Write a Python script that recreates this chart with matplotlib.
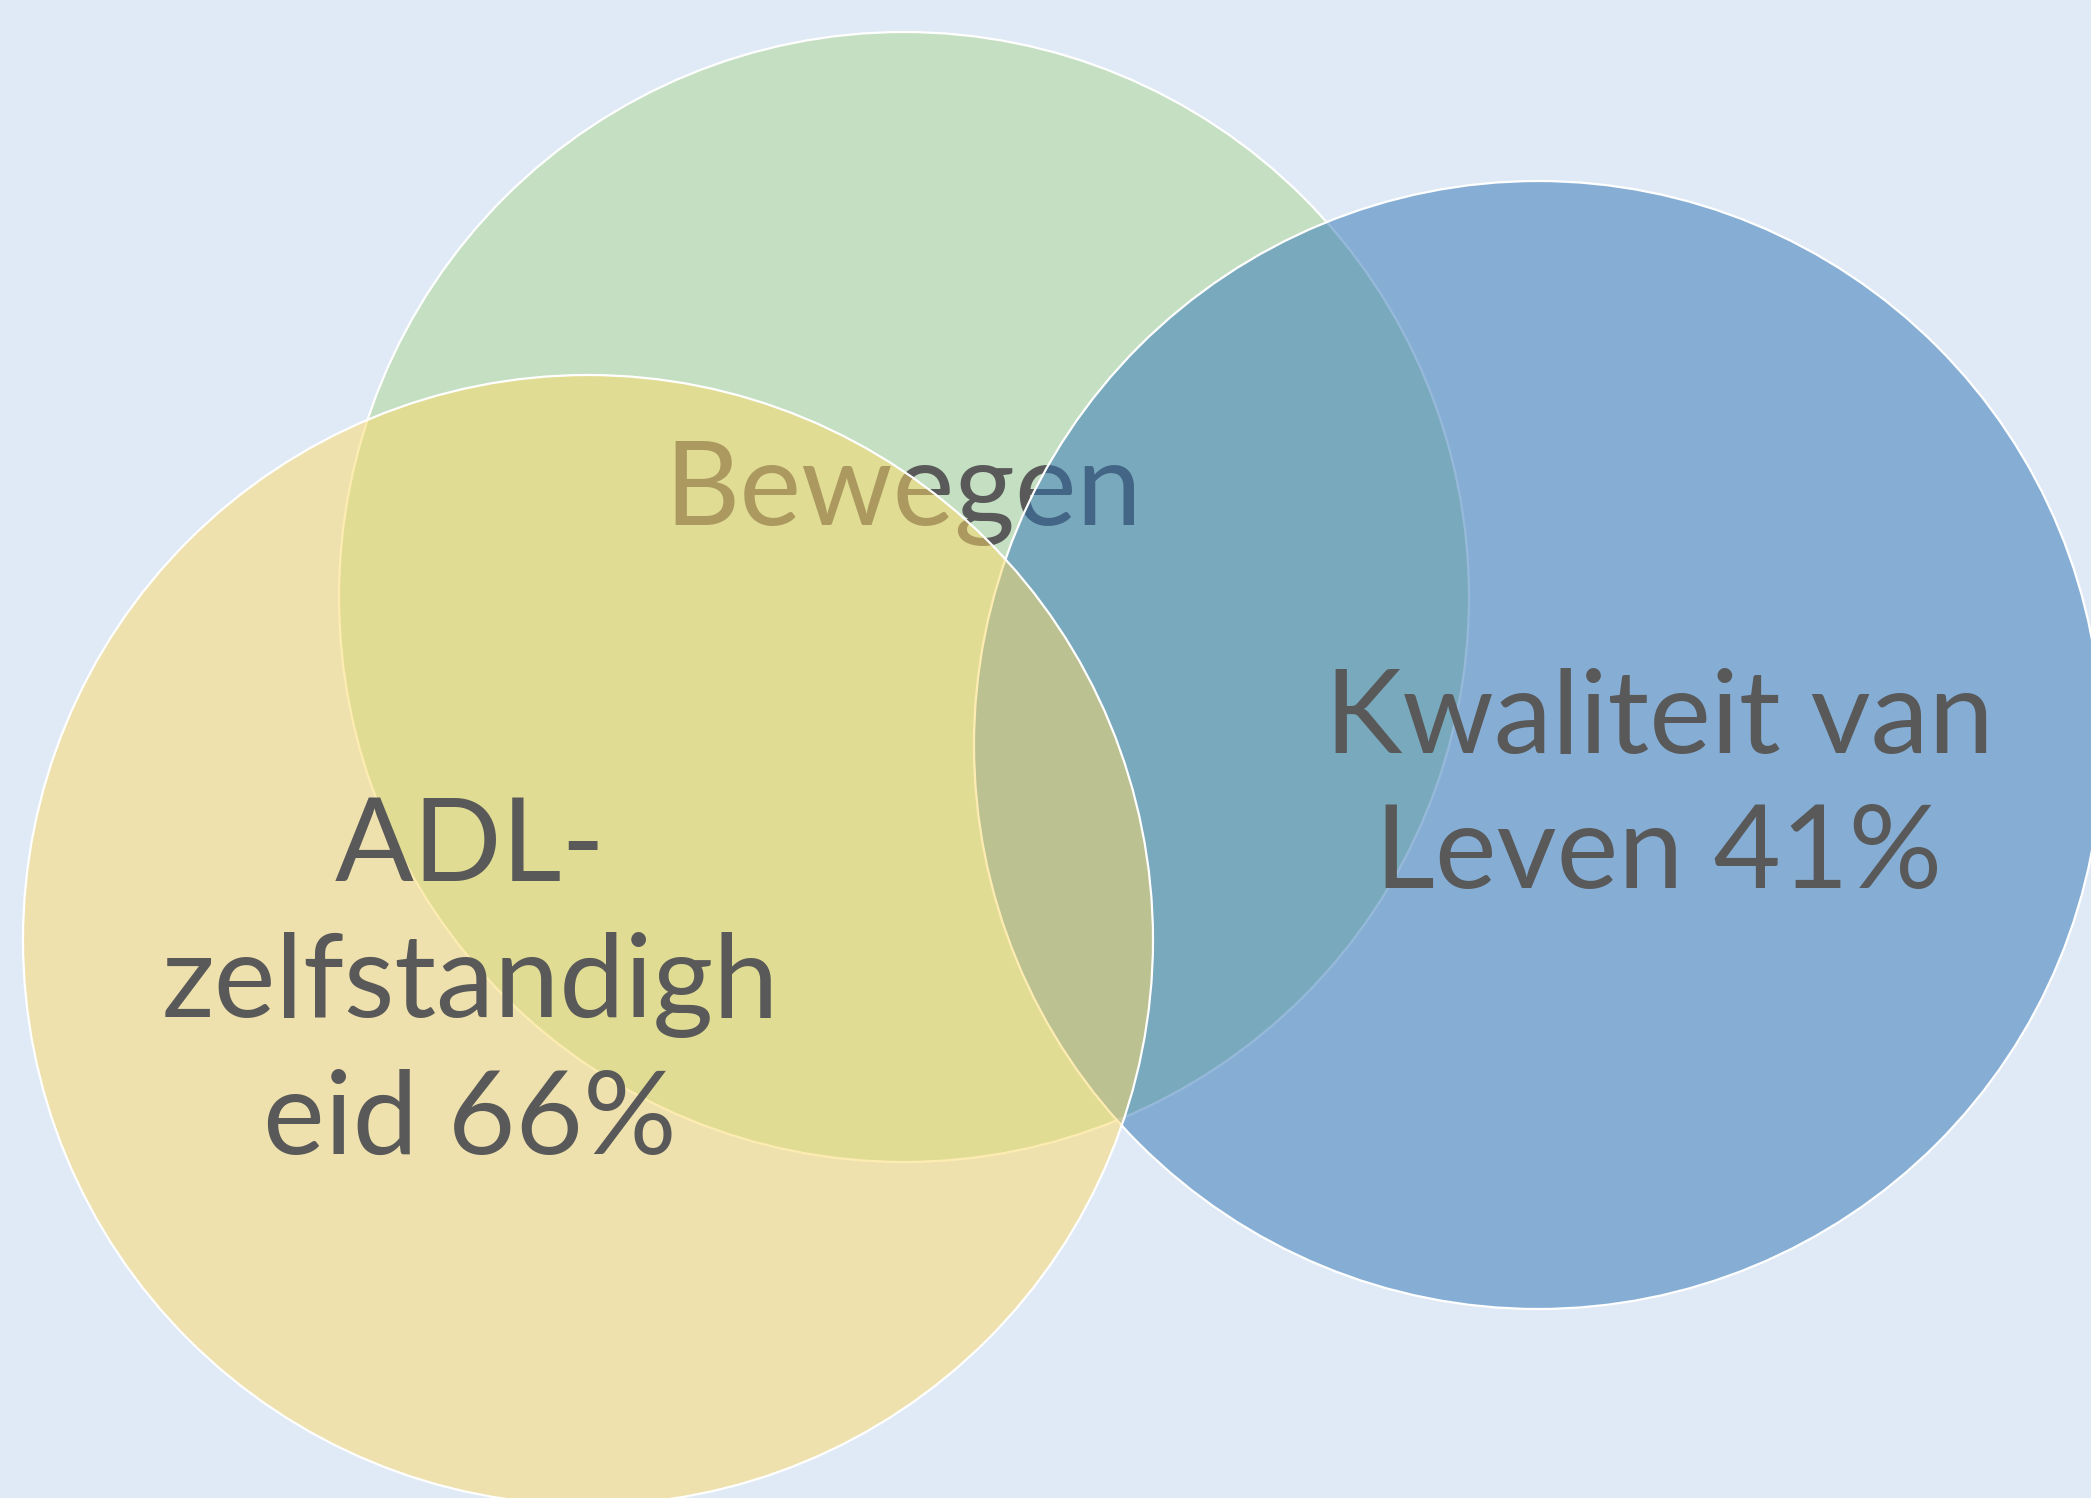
import matplotlib
matplotlib.use("Agg")
import matplotlib.pyplot as plt
from matplotlib.patches import Circle

# circles: label, center (px), radius (px), colour (drawn in this order)
names = ["Bewegen", "Kwaliteit van\nLeven 41%", "ADL-\nzelfstandigh\neid 66%"]
centers = [(904, 597), (1538, 745), (588, 940)]
radii = [565, 564, 565]
colors = ["#c5dfc3", "#2f74b6", "#fdda66"]
label_pos = [(903, 493), (1659, 788), (470, 985)]

W, H = 2091, 1498
fig = plt.figure(figsize=(W / 100, H / 100), dpi=100)
fig.patch.set_facecolor("#dfeaf6")
ax = fig.add_axes([0, 0, 1, 1])
ax.set_xlim(0, W)
ax.set_ylim(H, 0)
ax.set_aspect("equal")
ax.axis("off")

font = dict(family="Lato", color="#595959", fontsize=84, ha="center", va="center",
            linespacing=1.36)

# green first, its label under the other two circles
ax.add_patch(Circle(centers[0], radii[0], facecolor=colors[0],
                    edgecolor="white", linewidth=1.6, zorder=1))
ax.text(*label_pos[0], names[0], zorder=2, **font)

ax.add_patch(Circle(centers[1], radii[1], facecolor=colors[1] + "80",
                    edgecolor="white", linewidth=1.6, zorder=3))
ax.add_patch(Circle(centers[2], radii[2], facecolor=colors[2] + "80",
                    edgecolor="white", linewidth=1.6, zorder=4))

ax.text(*label_pos[1], names[1], zorder=5, **font)
ax.text(*label_pos[2], names[2], zorder=5, **font)

fig.savefig("out.png", dpi=100, facecolor=fig.get_facecolor())
